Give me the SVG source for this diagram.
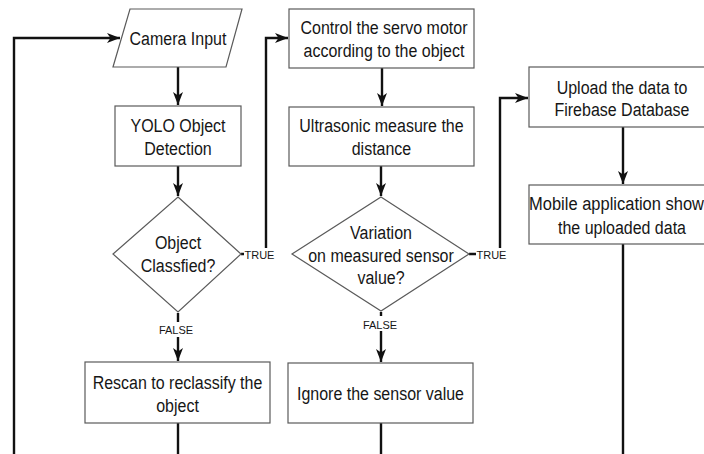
<svg xmlns="http://www.w3.org/2000/svg" width="704" height="454" viewBox="0 0 704 454">
  <style>
    .shape { fill: #ffffff; stroke: #5a5a5a; stroke-width: 1.2; }
    .edge { fill: none; stroke: #111111; stroke-width: 2.4; }
    .t { font-family: "Liberation Sans", Arial, Helvetica, sans-serif; font-size: 16px; fill: #161616; text-anchor: middle;
         transform-box: fill-box; transform-origin: center; transform: scaleY(1.1); }
    .lbl { font-family: "Liberation Sans", Arial, Helvetica, sans-serif; font-size: 11px; fill: #161616; text-anchor: middle; }
    .lblbg { fill: #ffffff; }
  </style>
  <defs>
    <marker id="arrow" markerUnits="userSpaceOnUse" markerWidth="16" markerHeight="12" refX="13" refY="5.5" orient="auto">
      <path d="M0,0.5 L13,5.5 L0,10.5 L3.5,5.5 Z" fill="#111111"/>
    </marker>
  </defs>

  <!-- connectors -->
  <g id="connectors">
    <!-- loop back to camera input -->
    <path class="edge" d="M14,454 L14,38 L120,38" marker-end="url(#arrow)"/>
    <path class="edge" d="M178,67 L178,105" marker-end="url(#arrow)"/>
    <path class="edge" d="M178,166 L178,196" marker-end="url(#arrow)"/>
    <!-- TRUE branch of first decision -->
    <path class="edge" d="M241,254 L266,254 L266,38 L288,38" marker-end="url(#arrow)"/>
    <!-- FALSE branch of first decision -->
    <path class="edge" d="M178,313 L178,361" marker-end="url(#arrow)"/>
    <path class="edge" d="M178,423 L178,454"/>
    <path class="edge" d="M382,68 L382,106" marker-end="url(#arrow)"/>
    <path class="edge" d="M381,166 L381,196" marker-end="url(#arrow)"/>
    <!-- TRUE branch of second decision -->
    <path class="edge" d="M469,254 L500,254 L500,98 L528,98" marker-end="url(#arrow)"/>
    <!-- FALSE branch of second decision -->
    <path class="edge" d="M381,312 L381,362" marker-end="url(#arrow)"/>
    <path class="edge" d="M381,423 L381,454"/>
    <path class="edge" d="M623,127 L623,184" marker-end="url(#arrow)"/>
    <path class="edge" d="M623,244 L623,454"/>

    <!-- edge labels -->
    <rect class="lblbg" x="244" y="248" width="31" height="13"/>
    <text class="lbl" x="259.5" y="258.5">TRUE</text>
    <rect class="lblbg" x="476" y="248" width="31" height="13"/>
    <text class="lbl" x="491.5" y="258.5">TRUE</text>
    <rect class="lblbg" x="157" y="322" width="37" height="15"/>
    <text class="lbl" x="176" y="334">FALSE</text>
    <rect class="lblbg" x="361" y="316" width="37" height="15"/>
    <text class="lbl" x="380" y="328.5">FALSE</text>
  </g>

  <g id="camera-input">
    <polygon class="shape" points="130,9 242,9 226,67 113,67"/>
    <text class="t" x="178" y="44.5">Camera Input</text>
  </g>

  <g id="yolo-detection">
    <rect class="shape" x="115" y="106" width="126" height="60"/>
    <text class="t" x="178" y="131">YOLO Object</text>
    <text class="t" x="178" y="154">Detection</text>
  </g>

  <g id="object-classified">
    <polygon class="shape" points="178,197 241,254 178,312 113,254"/>
    <text class="t" x="178" y="248.5">Object</text>
    <text class="t" x="178" y="271.5">Classfied?</text>
  </g>

  <g id="rescan">
    <rect class="shape" x="85" y="362" width="185" height="61"/>
    <text class="t" x="177.5" y="388.5">Rescan to reclassify the</text>
    <text class="t" x="177.5" y="411.5">object</text>
  </g>

  <g id="servo-control">
    <rect class="shape" x="289" y="9" width="185" height="59"/>
    <text class="t" x="384" y="33.5">Control the servo motor</text>
    <text class="t" x="384" y="56.5">according to the object</text>
  </g>

  <g id="ultrasonic">
    <rect class="shape" x="289" y="107" width="185" height="59"/>
    <text class="t" x="381.5" y="131.5">Ultrasonic measure the</text>
    <text class="t" x="381.5" y="154.5">distance</text>
  </g>

  <g id="sensor-variation">
    <polygon class="shape" points="381,197 469,254 381,311 292,254"/>
    <text class="t" x="381" y="238.5">Variation</text>
    <text class="t" x="381" y="261.5">on measured sensor</text>
    <text class="t" x="381" y="283.5">value?</text>
  </g>

  <g id="ignore-value">
    <rect class="shape" x="288" y="363" width="185" height="60"/>
    <text class="t" x="380.5" y="399.5">Ignore the sensor value</text>
  </g>

  <g id="upload-firebase">
    <rect class="shape" x="529" y="67" width="190" height="60"/>
    <text class="t" x="622" y="93.5">Upload the data to</text>
    <text class="t" x="622" y="115.5">Firebase Database</text>
  </g>

  <g id="mobile-app">
    <rect class="shape" x="529" y="185" width="190" height="59"/>
    <text class="t" x="529" y="209.5" style="text-anchor: start; font-size: 16.5px">Mobile application show</text>
    <text class="t" x="622" y="233.5">the uploaded data</text>
  </g>
</svg>
